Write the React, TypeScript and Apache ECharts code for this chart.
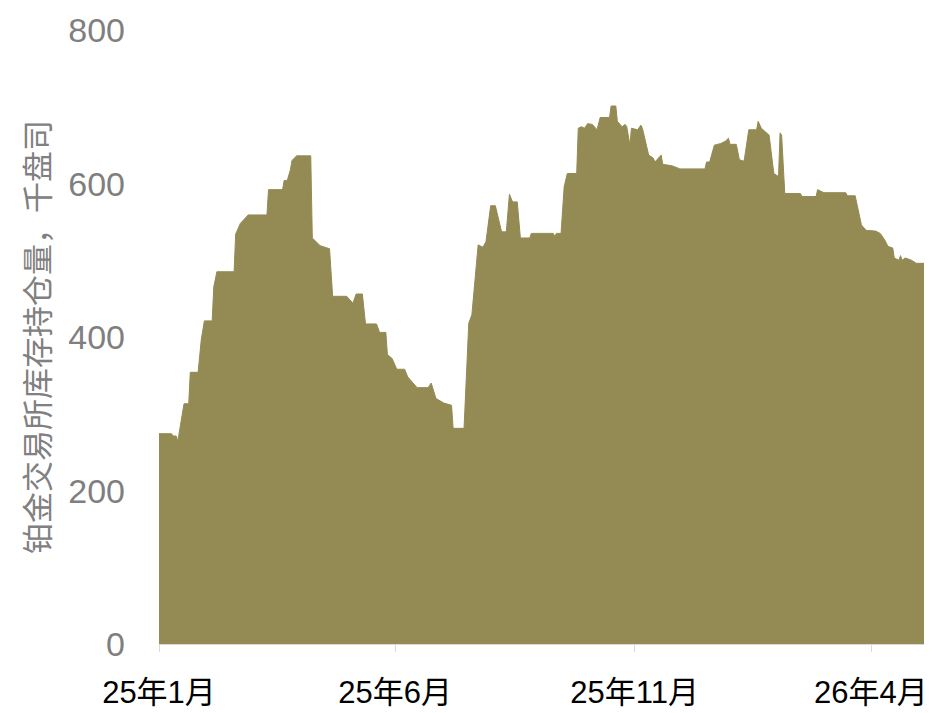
import React, { useEffect, useRef } from "react";
import * as echarts from "echarts";

const dates = [
  "2025-01-01", "2025-01-09", "2025-01-10", "2025-01-12", "2025-01-13", "2025-01-17", "2025-01-20", "2025-01-21",
  "2025-01-26", "2025-01-28", "2025-01-30", "2025-02-04", "2025-02-05", "2025-02-07", "2025-02-18", "2025-02-19",
  "2025-02-22", "2025-02-27", "2025-03-11", "2025-03-12", "2025-03-21", "2025-03-22", "2025-03-24", "2025-03-26",
  "2025-03-27", "2025-03-30", "2025-04-08", "2025-04-09", "2025-04-14", "2025-04-20", "2025-04-22", "2025-05-01",
  "2025-05-05", "2025-05-07", "2025-05-11", "2025-05-13", "2025-05-20", "2025-05-22", "2025-05-26", "2025-05-27",
  "2025-05-30", "2025-06-02", "2025-06-07", "2025-06-09", "2025-06-15", "2025-06-22", "2025-06-24", "2025-06-27",
  "2025-07-02", "2025-07-07", "2025-07-08", "2025-07-15", "2025-07-18", "2025-07-20", "2025-07-24", "2025-07-27",
  "2025-07-29", "2025-08-01", "2025-08-04", "2025-08-08", "2025-08-11", "2025-08-13", "2025-08-15", "2025-08-18",
  "2025-08-20", "2025-08-26", "2025-08-27", "2025-09-10", "2025-09-11", "2025-09-12", "2025-09-15", "2025-09-17",
  "2025-09-19", "2025-09-25", "2025-09-26", "2025-09-28", "2025-09-30", "2025-10-02", "2025-10-05", "2025-10-08",
  "2025-10-10", "2025-10-16", "2025-10-17", "2025-10-20", "2025-10-21", "2025-10-24", "2025-10-26", "2025-10-27",
  "2025-10-29", "2025-10-30", "2025-11-03", "2025-11-05", "2025-11-06", "2025-11-10", "2025-11-13", "2025-11-14",
  "2025-11-18", "2025-11-19", "2025-11-25", "2025-11-30", "2025-12-16", "2025-12-17", "2025-12-19", "2025-12-22",
  "2025-12-26", "2025-12-29", "2025-12-31", "2026-01-01", "2026-01-05", "2026-01-07", "2026-01-10", "2026-01-13",
  "2026-01-18", "2026-01-19", "2026-01-21", "2026-01-26", "2026-01-29", "2026-02-01", "2026-02-02", "2026-02-03",
  "2026-02-05", "2026-02-15", "2026-02-16", "2026-02-25", "2026-02-26", "2026-03-02", "2026-03-16", "2026-03-17",
  "2026-03-22", "2026-03-26", "2026-03-29", "2026-04-04", "2026-04-07", "2026-04-10", "2026-04-12", "2026-04-15",
  "2026-04-16", "2026-04-19", "2026-04-20", "2026-04-21", "2026-04-23", "2026-04-27", "2026-04-30", "2026-05-05",
];

const values = [
  274, 274, 271, 271, 264, 313, 313, 354,
  354, 396, 421, 421, 465, 485, 485, 534,
  548, 559, 559, 592, 592, 604, 604, 618,
  630, 636, 636, 529, 519, 515, 453, 453,
  444, 456, 456, 417, 417, 406, 406, 377,
  372, 358, 358, 348, 334, 334, 340, 320,
  314, 311, 281, 281, 418, 429, 520, 517,
  524, 571, 571, 537, 537, 586, 576, 576,
  529, 529, 535, 535, 531, 535, 535, 596,
  613, 613, 672, 674, 672, 678, 677, 670,
  686, 686, 701, 701, 681, 674, 677, 674,
  650, 672, 670, 676, 672, 637, 633, 628,
  637, 625, 623, 619, 619, 628, 628, 650,
  652, 655, 659, 651, 651, 631, 629, 670,
  670, 681, 672, 663, 613, 609, 666, 663,
  587, 587, 583, 583, 592, 588, 588, 584,
  584, 546, 539, 538, 535, 526, 518, 516,
  503, 500, 506, 500, 503, 500, 496, 496,
];

const tickDates = ["2025-01-01", "2025-06-01", "2025-11-01", "2026-04-01"];
const axisStart = "2025-01-01";
const axisEnd = "2026-05-05";
const yTicks = [0, 200, 400, 600, 800];

const yName = "铂金交易所库存持仓量，千盘司";

const DAY = 86400000;
const utc = (s: string) => {
  const [y, m, d] = s.split("-").map(Number);
  return Date.UTC(y, m - 1, d);
};
// day offset from the axis start date
const dayOf = (s: string) => Math.round((utc(s) - utc(axisStart)) / DAY);

export default function App() {
  const ref = useRef<HTMLDivElement>(null);
  useEffect(() => {
    if (!ref.current) return;
    const chart = echarts.init(ref.current, undefined, { renderer: "svg" });
    const font = "'Liberation Sans', Arial, 'Noto Sans CJK SC', sans-serif";
    const tickDays = tickDates.map(dayOf);
    chart.setOption({
      animation: false,
      backgroundColor: "#ffffff",
      grid: { left: 159, right: 11, top: 30, bottom: 69 },
      xAxis: {
        type: "value",
        min: 0,
        max: dayOf(axisEnd),
        axisLine: { show: true, lineStyle: { color: "#d9d9d9", width: 1 } },
        axisTick: {
          show: true,
          customValues: tickDays,
          length: 8,
          lineStyle: { color: "#d9d9d9", width: 1 },
        },
        axisLabel: {
          customValues: tickDays,
          formatter: (v: number) => {
            const d = new Date(utc(axisStart) + v * DAY);
            return `${d.getUTCFullYear() % 100}年${d.getUTCMonth() + 1}月`;
          },
          color: "#000000",
          fontSize: 31,
          fontFamily: font,
          margin: 33,
        },
        splitLine: { show: false },
      },
      yAxis: {
        type: "value",
        min: yTicks[0],
        max: yTicks[yTicks.length - 1],
        interval: 200,
        name: yName,
        nameLocation: "middle",
        nameRotate: 90,
        nameGap: 108,
        nameTextStyle: { color: "#808080", fontSize: 31, fontFamily: "'Noto Sans CJK SC', sans-serif" },
        axisLine: { show: false },
        axisTick: { show: false },
        splitLine: { show: false },
        axisLabel: { color: "#7f7f7f", fontSize: 34, fontFamily: font, margin: 34 },
      },
      series: [
        {
          type: "line",
          data: dates.map((d, i) => [dayOf(d), values[i]]),
          showSymbol: false,
          symbol: "none",
          lineStyle: { color: "#948A54", width: 1 },
          itemStyle: { color: "#948A54" },
          areaStyle: { color: "#948A54", opacity: 1 },
        },
      ],
    });
    return () => chart.dispose();
  }, []);
  return (
    <div
      ref={ref}
      style={{ position: "fixed", left: 0, top: 0, width: 935, height: 713, background: "#fff" }}
    />
  );
}
